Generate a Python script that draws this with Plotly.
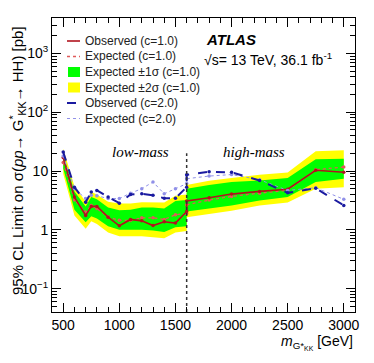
import plotly.graph_objects as go

# mass points (GeV), low-mass and high-mass analyses
mass_low = [500, 600, 700, 750, 800, 900, 1000, 1100, 1200, 1300, 1400, 1500, 1600]
mass_high = [1600, 1800, 2000, 2250, 2500, 2750, 3000]

# c = 1.0 limits [pb]
obs1_low = [17, 3.6, 1.75, 2.5, 2.5, 1.64, 1.17, 1.5, 1.42, 1.18, 1.37, 1.3, 2.05]
exp1_low = [14, 3.2, 2.0, 2.6, 2.3, 1.65, 1.45, 1.45, 1.6, 1.6, 1.5, 1.8, 1.9]
p2_low = [24, 5.5, 3.0, 4.4, 4.0, 3.0, 2.8, 2.8, 2.95, 2.95, 2.9, 3.8, 4.0]
p1_low = [19, 4.5, 2.5, 3.6, 3.3, 2.4, 2.15, 2.2, 2.4, 2.4, 2.3, 3.1, 3.2]
m1_low = [11, 2.2, 1.35, 1.7, 1.55, 1.15, 1.0, 1.0, 1.0, 0.97, 0.92, 1.1, 1.15]
m2_low = [9, 1.75, 1.04, 1.4, 1.25, 0.9, 0.78, 0.78, 0.78, 0.75, 0.72, 0.9, 0.95]

obs1_high = [3.1, 3.5, 4.05, 4.5, 4.9, 10.3, 9.5]
exp1_high = [2.66, 3.2, 3.7, 4.2, 4.7, 10.5, 11.7]
p2_high = [5.8, 6.8, 7.6, 8.6, 9.4, 21.6, 22.5]
p1_high = [5.0, 5.8, 6.5, 6.9, 7.6, 15.8, 16.2]
m1_high = [2.05, 2.3, 2.6, 3.15, 3.6, 6.5, 7.4]
m2_high = [1.64, 1.85, 2.1, 2.6, 2.9, 5.0, 5.3]

# c = 2.0 limits [pb]
obs2_low = [21, 5.3, 2.95, 4.4, 4.67, 3.6, 2.84, 4.0, 4.1, 3.85, 3.45, 3.45, 5.3]
exp2_low = [18, 5.0, 3.4, 3.85, 3.8, 3.4, 3.4, 4.2, 5.0, 6.5, 4.1, 5.0, 6.1]
obs2_high = [8.6, 9.7, 9.5, 6.9, 4.25, 5.1, 2.6]
exp2_high = [7.4, 8.2, 8.7, 7.1, 4.67, 5.2, 3.3]

split_mass = 1600
split_top = 20

font = "Liberation Sans, Arial, sans-serif"
serif = "Liberation Serif, Times New Roman, serif"
YELLOW, GREEN = "#ffff00", "#00ff00"
fig = go.Figure()


def band(m, lo, hi, color):
    fig.add_trace(go.Scatter(
        x=m + m[::-1], y=hi + lo[::-1], fill="toself", fillcolor=color,
        line=dict(width=0), mode="lines", showlegend=False, hoverinfo="skip"))


band(mass_low, m2_low, p2_low, YELLOW)
band(mass_high, m2_high, p2_high, YELLOW)
band(mass_low, m1_low, p1_low, GREEN)
band(mass_high, m1_high, p1_high, GREEN)

# name, values, colour, dash, width
series = {
    "exp1": ("Expected (c=1.0)", exp1_low + exp1_high, "#e05a5a", "dot", 1.3),
    "obs1": ("Observed (c=1.0)", obs1_low + obs1_high, "#b0141e", "solid", 1.6),
    "exp2": ("Expected (c=2.0)", exp2_low + exp2_high, "#9090e8", "dot", 1.0),
    "obs2": ("Observed (c=2.0)", obs2_low + obs2_high, "#1a1aa0", "dash", 2.0),
}
mass_all = mass_low + mass_high
for name, y, color, dash, w in series.values():
    fig.add_trace(go.Scatter(
        x=mass_all, y=y, mode="lines+markers", name=name, showlegend=False,
        line=dict(color=color, dash=dash, width=w),
        marker=dict(size=3.5, color=color)))

fig.add_trace(go.Scatter(
    x=[split_mass, split_mass], y=[0.04, split_top], mode="lines",
    line=dict(color="#333333", dash="dot", width=1.5), showlegend=False))

# hand-made ROOT-style legend (compact rows)
px = lambda X: (X - 52) / 303
py = lambda Y: (312 - Y) / 294
legend_rows = [
    ("line", series["obs1"]),
    ("line", series["exp1"]),
    ("box", ("Expected ±1σ (c=1.0)", None, GREEN, None, None)),
    ("box", ("Expected ±2σ (c=1.0)", None, YELLOW, None, None)),
    ("line", series["obs2"]),
    ("line", series["exp2"]),
]
for i, (kind, (name, _, color, dash, w)) in enumerate(legend_rows):
    Y = 41 + 15.5 * i
    if kind == "line":
        fig.add_shape(type="line", xref="paper", yref="paper",
                      x0=px(67), x1=px(80), y0=py(Y), y1=py(Y),
                      line=dict(color=color, dash=dash, width=w))
    else:
        fig.add_shape(type="rect", xref="paper", yref="paper",
                      x0=px(68), x1=px(80), y0=py(Y + 5), y1=py(Y - 5),
                      fillcolor=color, line=dict(width=0))
    fig.add_annotation(x=px(83), y=py(Y), xref="paper", yref="paper",
                       xanchor="left", yanchor="middle", showarrow=False,
                       text=name, font=dict(family=font, size=12, color="#222222"))

axis_common = dict(
    showline=True, linecolor="black", linewidth=1, mirror="allticks",
    ticks="inside", tickcolor="black", showgrid=False, zeroline=False,
    automargin=False,
    tickfont=dict(family=font, size=14, color="black"),
)
fig.update_xaxes(
    range=[400, 3100], tickvals=[500, 1000, 1500, 2000, 2500, 3000], ticklen=9,
    minor=dict(dtick=100, tick0=0, ticklen=5, ticks="inside", tickcolor="black"),
    **axis_common)
fig.update_yaxes(
    type="log", range=[-1.398, 3.602],
    tickvals=[0.1, 1, 10, 100, 1000],
    ticktext=["10<sup>−1</sup>", "1", "10", "10<sup>2</sup>", "10<sup>3</sup>"],
    ticklen=9,
    minor=dict(tickvals=[k * 10 ** e for e in range(-2, 4) for k in range(2, 10)],
               ticklen=5, ticks="inside", tickcolor="black"),
    **axis_common)

# axis titles as annotations (ROOT places them at the axis ends)
fig.add_annotation(x=px(17), y=py(161), xref="paper", yref="paper",
                   xanchor="center", yanchor="middle", showarrow=False, textangle=-90,
                   text="95% CL Limit on σ(<i>pp</i>→ G<sup>*</sup><sub>KK</sub>→ HH) [pb]",
                   font=dict(family=font, size=15, color="black"))
fig.add_annotation(x=1, y=-0.105, xref="paper", yref="paper", xanchor="right",
                   yanchor="middle", showarrow=False,
                   text="<i>m</i><sub>G*<sub>KK</sub></sub> [GeV]",
                   font=dict(family=font, size=14, color="black"))
fig.add_annotation(x=px(140), y=py(152), xref="paper", yref="paper",
                   xanchor="center", yanchor="middle", showarrow=False,
                   text="<i>low-mass</i>",
                   font=dict(family=serif, size=15, color="black"))
fig.add_annotation(x=px(254), y=py(152), xref="paper", yref="paper",
                   xanchor="center", yanchor="middle", showarrow=False,
                   text="<i>high-mass</i>",
                   font=dict(family=serif, size=15, color="black"))
fig.add_annotation(x=px(204), y=py(40), xref="paper", yref="paper", xanchor="left",
                   yanchor="middle", showarrow=False, text="<b><i>ATLAS</i></b>",
                   font=dict(family=font, size=15, color="black"))
fig.add_annotation(x=px(202), y=py(59), xref="paper", yref="paper", xanchor="left",
                   yanchor="middle", showarrow=False,
                   text="√s= 13 TeV, 36.1 fb<sup>-1</sup>",
                   font=dict(family=font, size=14, color="black"))

# the page body adds an 8px offset, so margins are shifted to compensate
fig.update_layout(
    width=374, height=363, margin=dict(l=44, r=27, t=10, b=59),
    paper_bgcolor="white", plot_bgcolor="white", showlegend=False,
)
fig.write_html("out.html")
